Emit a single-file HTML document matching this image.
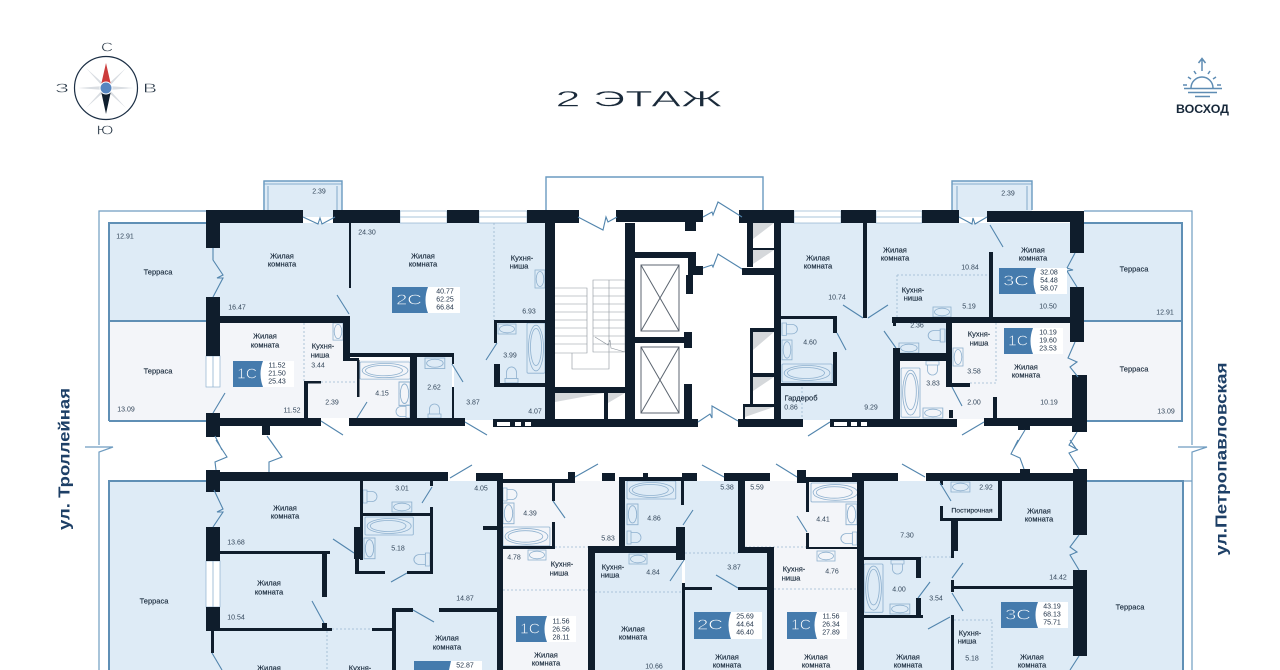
<!DOCTYPE html>
<html lang="ru"><head><meta charset="utf-8"><title>2 этаж</title>
<style>
html,body{margin:0;padding:0;background:#fff}
svg{display:block}
text{font-family:"Liberation Sans","Noto Sans CJK SC",sans-serif;fill:#17283a;dominant-baseline:central}
.r{font-size:7.5px;text-anchor:middle;font-weight:400;stroke:#17283a;stroke-width:.15}
.n{font-size:7px;text-anchor:middle;fill:#33465a}
.t{font-size:7px;text-anchor:middle;fill:#22344a}
.tg{font-size:15px;fill:#fff;text-anchor:middle;stroke:#457bad;stroke-width:.55}
.h{fill:#1a2a3a;stroke:#fff;stroke-width:.4}
.d{fill:none;stroke:#5285ad;stroke-width:1.1}
.f{fill:none;stroke:#8fb1cf;stroke-width:.8}
.da{fill:none;stroke:#9ab6cf;stroke-width:.8;stroke-dasharray:2 2}
.o{fill:none;stroke:#6f9cc0;stroke-width:1.2}
.s{fill:none;stroke:#8b939b;stroke-width:.6}
</style></head><body>
<svg width="1280" height="670" viewBox="0 0 1280 670" xmlns="http://www.w3.org/2000/svg">
<defs>
<g id="bath"><rect width="46" height="18" rx="1" class="f"/><ellipse cx="23" cy="9" rx="21" ry="7.5" class="f"/><ellipse cx="22" cy="9" rx="17" ry="5.5" class="f"/></g>
<g id="sink"><rect width="18" height="10" class="f"/><ellipse cx="9" cy="5" rx="7.5" ry="3.8" class="f"/></g>
<g id="toilet"><path d="M0 0h4v13H0zM4 1.5h5a5 5 0 0 1 0 10H4z" class="f"/></g>
</defs>
<rect width="1280" height="670" fill="#fff"/>

<!-- fills -->
<g fill="#deebf6">
<rect x="109" y="223" width="100" height="98"/>
<rect x="206" y="248" width="14" height="49"/>
<rect x="220" y="223" width="130" height="93"/>
<rect x="350" y="223" width="196" height="130"/>
<rect x="454" y="353" width="92" height="67"/>
<rect x="417" y="357" width="35" height="61"/>
<rect x="781" y="223" width="290" height="94"/>
<rect x="781" y="317" width="112" height="103"/>
<rect x="893" y="323" width="53" height="30"/>
<rect x="1070" y="253" width="14" height="34"/>
<rect x="1084" y="223" width="98" height="98"/>
<rect x="263" y="181" width="79" height="36"/>
<rect x="952" y="181" width="80" height="36"/>
<rect x="109" y="481" width="98" height="189"/>
<rect x="206" y="492" width="14" height="35"/>
<rect x="206" y="631" width="14" height="39"/>
<rect x="220" y="481" width="277" height="189"/>
<rect x="595" y="553" width="87" height="117"/>
<rect x="625" y="481" width="113" height="72"/>
<rect x="685" y="553" width="82" height="117"/>
<rect x="864" y="481" width="209" height="189"/>
<rect x="1073" y="535" width="14" height="35"/>
<rect x="1073" y="656" width="14" height="14"/>
<rect x="1087" y="481" width="96" height="189"/>
</g>
<g fill="#f3f5f9">
<rect x="109" y="321" width="100" height="100"/>
<rect x="206" y="387" width="14" height="26"/>
<rect x="220" y="323" width="125" height="95"/>
<rect x="308" y="360" width="102" height="58"/>
<rect x="900" y="361" width="46" height="58"/>
<rect x="946" y="323" width="126" height="96"/>
<rect x="1070" y="342" width="14" height="33"/>
<rect x="1084" y="321" width="98" height="100"/>
<rect x="503" y="481" width="85" height="189"/>
<rect x="588" y="481" width="31" height="66"/>
<rect x="745" y="481" width="115" height="66"/>
<rect x="774" y="547" width="86" height="123"/>
</g>

<!-- outer outlines -->
<path class="o" d="M206 211H99V445M85 447H113L99 452V670M1084 211H1192V445M1178 447H1207L1192 452V670M1087 481H1192M206 481H109"/>
<path fill="none" stroke="#5f8fb5" stroke-width="2" d="M109 421V223H206M109 321H206M109 421H206M109 670V481H206M1084 223H1182V421H1084M1084 321H1182M1087 481H1183V670"/>
<path fill="none" stroke="#6a9ac0" stroke-width="1.4" d="M264 210V181H342V210M952 210V181H1032V210M546 210V177H763V210"/>
<path fill="none" stroke="#6a9ac0" stroke-width=".8" d="M268 210V186M337 210V186M264 184H342M957 210V186M1027 210V186M952 184H1032"/>

<!-- windows -->
<g fill="#fff" stroke="#8fb1cf" stroke-width=".7">
<rect x="400" y="211" width="47" height="12"/><rect x="479" y="211" width="48" height="12"/>
<rect x="794" y="211" width="47" height="12"/><rect x="876" y="211" width="46" height="12"/>
<rect x="206" y="356" width="14" height="31"/><rect x="206" y="561" width="14" height="46"/>
</g>
<path class="f" d="M213 356V387M213 561V607M400 217H447M479 217H527M794 217H841M876 217H922"/>

<!-- shaft shadows -->
<g fill="#d5d8db">
<path d="M753 223h21l-21 16zM753 250h21l-21 14zM753 332h21l-21 18zM753 377h21l-21 14zM745 407h29l-29 10zM555 393h49l-49 9zM608 393h17l-17 10z"/>
</g>

<!-- stairs and lifts -->
<path class="s" d="M555 288H587V353H555M555 296H587M555 304H587M555 312H587M555 320H587M555 328H587M555 336H587M555 344H587M593 280H625V352H593ZM593 288H625M593 296H625M593 304H625M593 312H625M593 320H625M593 328H625M593 336H625M593 344H625M572 353V369H609V280M595 337L608 345L610 340L611 348L625 352"/>
<path stroke="#5c6570" stroke-width="1" fill="none" d="M641 265H679V331H641ZM641 265L679 331M679 265L641 331M641 347H679V413H641ZM641 347L679 413M679 347L641 413"/>

<!-- dashed partitions -->
<path class="da" d="M494 223V320M304 323V381M321 382H357M897 275H989M897 275V317M996 323V383M970 383H996M802 387V419M555 547H588M503 590H588M595 592H682M685 553H738M745 547H806M774 589H860M332 629H372M327 631V670M921 557H951M954 620H992V670"/>

<!-- fixtures -->
<use href="#bath" transform="translate(360 362) scale(1.09 .95)"/>
<use href="#sink" transform="translate(410 382) rotate(90) scale(1.3 1.1)"/>
<use href="#toilet" transform="translate(410 418) rotate(180)"/>
<use href="#sink" transform="translate(425 358) scale(1.1 1.05)"/>
<use href="#toilet" transform="translate(428 418) rotate(-90)"/>
<use href="#sink" transform="translate(498 324)"/>
<use href="#bath" transform="translate(545 323) rotate(90) scale(1.09 1)"/>
<use href="#toilet" transform="translate(505 383) rotate(-90) scale(1.15 1)"/>
<use href="#sink" transform="translate(545 270) rotate(90)"/>
<use href="#sink" transform="translate(343 323) rotate(90) scale(.95 1)"/>
<use href="#toilet" transform="translate(782 323) scale(1.1 .95)"/>
<use href="#sink" transform="translate(792 340) rotate(90) scale(1.1 1)"/>
<use href="#bath" transform="translate(782 364) scale(1.09 1)"/>
<use href="#sink" transform="translate(933 307)"/>
<use href="#toilet" transform="translate(945 329) scale(-1.2 1)"/>
<use href="#sink" transform="translate(899 343) scale(1.1 1)"/>
<use href="#bath" transform="translate(920 368) rotate(90) scale(1.07 1.05)"/>
<use href="#toilet" transform="translate(939 361) rotate(90)"/>
<use href="#sink" transform="translate(923 408) scale(1.1 1)"/>
<use href="#sink" transform="translate(963 348) rotate(90)"/>
<use href="#toilet" transform="translate(363 490)"/>
<use href="#sink" transform="translate(392 502) scale(1.1 1)"/>
<use href="#bath" transform="translate(365 517) scale(1.05 1)"/>
<use href="#sink" transform="translate(375 538) rotate(90) scale(1.15 1.1)"/>
<use href="#toilet" transform="translate(430 553) scale(-1.15 1)"/>
<use href="#toilet" transform="translate(503 488)"/>
<use href="#sink" transform="translate(514 503) rotate(90) scale(1.15 1.1)"/>
<use href="#bath" transform="translate(503 527) scale(1.02 1.05)"/>
<use href="#sink" transform="translate(528 550)"/>
<use href="#bath" transform="translate(627 481) scale(1.06 1)"/>
<use href="#sink" transform="translate(638 504) rotate(90) scale(1.15 1.1)"/>
<use href="#toilet" transform="translate(627 531)"/>
<use href="#sink" transform="translate(629 554)"/>
<use href="#bath" transform="translate(811 483) scale(1.06 1.05)"/>
<use href="#sink" transform="translate(857 504) rotate(90) scale(1.15 1.1)"/>
<use href="#toilet" transform="translate(857 532) scale(-1.15 1)"/>
<use href="#sink" transform="translate(817 551)"/>
<use href="#sink" transform="translate(951 482) scale(1.05 1)"/>
<use href="#bath" transform="translate(883 564) rotate(90) scale(1.05 1.05)"/>
<use href="#toilet" transform="translate(904 560) rotate(90)"/>
<use href="#sink" transform="translate(890 604) scale(1.1 1)"/>

<!-- walls -->
<path fill="#0f1d2c" d="
M206 210H303V223H206zM206 223H220V248H206zM206 297H220V356H206zM206 413H220V437H206zM220 316H350V323H220zM343 316H350V360H343zM349 223H351V288H349z
M333 210H400V223H333zM447 210H479V223H447zM527 210H579V223H527zM545 223H555V427H545zM350 353H454V357H350zM343 358H359V361H343zM357 360H359.500V397H357z
M410 357H417V423H410zM452 353H454V364H452zM452 387H454V420H452zM220 418H321V426H220zM349 418H465V426H349zM304 381H321V383.500H304zM304 381H308V418H304zM262 426H270V435H262z
M494 320H554V323H494zM494 320H497V343H494zM494 364H500V387H494zM494 383H554V387H494z
M493 419H554V427H493z
M616 210H703V222H616zM685 222H696V231H685zM625 223H635V427H625zM635 252H696V258H635zM688 258H696V268H688zM688 266H703V275H688zM686 275H693V294H686zM635 337H692V343H635zM684 332H692V348H684zM684 384H692V420H684zM555 419H698V427H555zM555 387H625V393H555zM604 393H608V419H604z
M739 210H794V223H739zM747 223H753V267H747zM753 248H774V250H753zM742 268H781V275H742zM774 223H781V427H774zM750 328H774V332H750zM750 328H753V405H750zM753 373H774V377H753zM743 404H774V407H743zM743 404H745V420H743zM738 419H803V427H738z
M781 316H837V319H781zM833 319H837V333H833zM833 352H837V386H833zM781 383H837V386H781zM841 210H876V223H841zM863 223H867V318H863zM830 419H957V427H830z
M922 210H959V223H922zM987 211H1084V222H987zM1070 222H1084V253H1070zM1070 287H1084V342H1070zM1072 375H1087V432H1072zM989 252H993V317H989zM892 317H1073V323H892zM893 323H896V326H893zM946 320H952V387H946zM893 348H900V420H893zM897 353H946V361H897zM950 383H970V387H950zM993 397H997V420H993zM984 418H1073V426H984zM949 410H953V418H949zM1018 426H1030V430H1018z
M206 470H220V492H206zM220 472H448V481H220zM476 473H503V481H476zM206 527H220V561H206zM206 607H220V631H206zM220 551H330V554H220zM322 554H327V597H322zM322 623H327V628H322zM220 628H332V631H220zM372 628H392V631H372zM211 631H214V653H211zM392 608H413V612H392zM392 608H396V670H392zM439 608H497V612H439zM497 473H503V670H497zM360 481H363V560H360zM354 527H363V559H354zM363 513H433V516H363zM430 507H433V573H430zM430 481H433V486H430zM355 559H359V574H355zM355 571H385V574H355zM407 571H433V574H407zM483 526H497V530H483z
M503 479H573V483H503zM568 472H575V483H568zM552 483H555V501H552zM552 522H555V547H552zM503 546H555V549H503zM490 608H498V612H490zM588 546H595V670H588zM588 546H677V553H588zM602 473H615V481H602zM619 477H697V481H619zM619 480H625V547H619zM682 473H697V481H682zM643 473H648V477H643zM681 481H684V505H681zM676 527H685V560H676zM724 473H770V481H724zM738 481H745V547H738zM738 547H774V553H738zM767 553H774V670H767zM682 583H685V670H682zM685 587H712V590H685zM738 587H767V590H738zM797 470H806V483H797zM806 477H860V482H806zM806 482H809V512H806zM806 533H809V548H806zM806 547H860V549H806z
M852 473H898V481H852zM857 481H864V670H857zM926 473H1077V481H926zM1020 469H1030V473H1020zM1073 469H1087V535H1073zM1073 570H1087V656H1073zM940 481H943V485H940zM940 506H943V521H940zM940 518H1002V521H940zM998 481H1002V521H998zM951 521H958V551H951zM951 551H954V558H951zM951 580H954V592H951zM954 586H1073V589H954zM951 615H954V670H951zM864 557H921V560H864zM916 560H921V578H916zM916 598H921V618H916zM864 615H923V618H864z"/>
<g fill="#fff"><rect x="497" y="422" width="13" height="4"/><rect x="515" y="422" width="6" height="4"/><rect x="525" y="422" width="6" height="4"/><rect x="834" y="422" width="13" height="4"/><rect x="851" y="422" width="6" height="4"/><rect x="861" y="422" width="6" height="4"/></g>

<!-- doors -->
<path class="d" d="M303 217L318 224L320 218L322 224L335 217M959 217L972 224L973 218L975 224L987 217
M578 217L603 230L606 217L608 222L617 217M703 217L712 212L713 215L718 202L742 217M703 268L712 265L713 267L718 254L742 269M698 422L710 414L712 418L712 406L738 421
M213 248V260L223 275L217 278H223L213 297M225 393L213 413M215 436L222 450M267 436L277 450M216 440L227 457L215 462L216 470M270 440L282 457L269 462L269 472
M214 490L223 509L217 512H223L213 527M212 653L222 670
M337 295L349 314M321 421L343 435M357 418L367 402M465 422L487 435M452 364L463 382M486 360L497 343
M843 305L863 318M837 333L846 350M830 422L808 436M868 318L888 305M990 225L1003 247M884 331L896 348M952 387L962 406M984 422L962 435
M1075 253L1067 268L1073 270L1067 271L1077 287M1075 342L1068 358L1077 362L1070 367L1078 377M1025 430L1013 450M1077 432L1069 445L1078 450
M1018 440L1011 454L1020 458L1024 469M1070 440L1077 450L1069 453L1079 469M1079 535L1070 547L1077 552L1070 555L1079 570M1079 656L1070 670
M902 464L925 477M940 483L951 501M963 563L952 578M963 611L952 593M930 582L918 598M950 617L928 629
M450 478L472 465M422 503L432 487M333 539L354 553M391 582L407 573M312 601L324 623M413 610L434 622
M575 477L598 464M553 501L565 518M702 465L724 477M776 464L797 477M693 510L683 525M684 560L670 581M716 575L738 588M797 516L807 532"/>

<!-- header -->
<text class="h" x="639" y="99" font-size="22" textLength="167" lengthAdjust="spacingAndGlyphs" text-anchor="middle">2 ЭТАЖ</text>

<!-- compass -->
<circle cx="106" cy="88" r="31.500" fill="#fff" stroke="#1c2f45" stroke-width="1.2"/>
<path fill="#d9dde2" d="M78 88L104 86L104 90ZM134 88L108 86L108 90ZM86 68L106 86L104 88ZM126 68L106 86L108 88ZM86 108L106 90L104 88ZM126 108L106 90L108 88Z"/>
<path fill="#cc3c3c" d="M106 63L111 85H101Z"/><path fill="#101f2e" d="M106 114L111 91H101Z"/>
<circle cx="106" cy="88" r="6" fill="#5585c0" stroke="#fff" stroke-width="1"/>
<text class="h" x="107" y="47" font-size="13" text-anchor="middle" textLength="12" lengthAdjust="spacingAndGlyphs">С</text>
<text class="h" x="105" y="130" font-size="13" text-anchor="middle" textLength="17" lengthAdjust="spacingAndGlyphs">Ю</text>
<text class="h" x="62" y="88" font-size="13" text-anchor="middle" textLength="14" lengthAdjust="spacingAndGlyphs">З</text>
<text class="h" x="150" y="88" font-size="13" text-anchor="middle" textLength="14" lengthAdjust="spacingAndGlyphs">В</text>

<!-- sunrise -->
<g fill="none" stroke="#5e8cb3" stroke-width="1.5">
<path d="M1184 88.500H1222M1188 92.500H1217M1195 96.500H1210" stroke-width="1.5"/>
<path d="M1191 88A11 11 0 0 1 1213 88"/>
<path d="M1202 71V60M1198.500 63L1202 58.500L1205.500 63M1188 77L1191 79M1216 77L1213 79M1194 71L1196 74M1210 71L1208 74M1183 85H1187M1217 85H1221"/>
</g>
<text x="1202.500" y="110" font-size="11.500" font-weight="700" text-anchor="middle" textLength="53" lengthAdjust="spacingAndGlyphs" style="fill:#17283a">ВОСХОД</text>

<!-- streets -->
<text transform="translate(65 459) rotate(-90)" font-size="16" font-weight="700" text-anchor="middle" textLength="142" lengthAdjust="spacingAndGlyphs" style="fill:#1d3f66">ул. Троллейная</text>
<text transform="translate(1222 459) rotate(-90)" font-size="16" font-weight="700" text-anchor="middle" textLength="193" lengthAdjust="spacingAndGlyphs" style="fill:#1d3f66">ул.Петропавловская</text>

<!-- area tags -->
<g fill="#fff">
<rect x="420" y="287" width="40" height="26"/><rect x="258" y="361" width="36" height="26"/><rect x="1030" y="268" width="37" height="26"/><rect x="1028" y="328" width="35" height="26"/><rect x="542" y="616" width="34" height="26"/><rect x="726" y="612" width="36" height="27"/><rect x="812" y="612" width="35" height="27"/><rect x="1033" y="602" width="35" height="26"/><rect x="446" y="661" width="36" height="9"/>
</g>
<g fill="#457bad">
<path d="M392 287H428Q423 300 428 313H392Z"/>
<path d="M233 361H263Q258 374 263 387H233Z"/>
<path d="M999 268H1036Q1031 281 1036 294H999Z"/>
<path d="M1004 328H1033Q1028 341 1033 354H1004Z"/>
<path d="M516 616H547Q542 629 547 642H516Z"/>
<path d="M694 612H731Q726 625 731 639H694Z"/>
<path d="M787 612H817Q812 625 817 639H787Z"/>
<path d="M1001 602H1038Q1033 615 1038 628H1001Z"/>
<path d="M414 661H451L449 670H414Z"/>
</g>
<text class="tg" x="409" y="300" textLength="26" lengthAdjust="spacingAndGlyphs">2С</text>
<text class="tg" x="247" y="374" textLength="20" lengthAdjust="spacingAndGlyphs">1С</text>
<text class="tg" x="1016" y="281" textLength="26" lengthAdjust="spacingAndGlyphs">3С</text>
<text class="tg" x="1018" y="341" textLength="20" lengthAdjust="spacingAndGlyphs">1С</text>
<text class="tg" x="530" y="629" textLength="20" lengthAdjust="spacingAndGlyphs">1С</text>
<text class="tg" x="710" y="625" textLength="26" lengthAdjust="spacingAndGlyphs">2С</text>
<text class="tg" x="801" y="625" textLength="20" lengthAdjust="spacingAndGlyphs">1С</text>
<text class="tg" x="1018" y="615" textLength="26" lengthAdjust="spacingAndGlyphs">3С</text>
<g class="t">
<text class="t" x="445" y="292">40.77</text><text class="t" x="445" y="300">62.25</text><text class="t" x="445" y="308">66.84</text>
<text class="t" x="277" y="366">11.52</text><text class="t" x="277" y="374">21.50</text><text class="t" x="277" y="382">25.43</text>
<text class="t" x="1049" y="273">32.08</text><text class="t" x="1049" y="281">54.48</text><text class="t" x="1049" y="289">58.07</text>
<text class="t" x="1048" y="333">10.19</text><text class="t" x="1048" y="341">19.60</text><text class="t" x="1048" y="349">23.53</text>
<text class="t" x="561" y="622">11.56</text><text class="t" x="561" y="630">26.56</text><text class="t" x="561" y="638">28.11</text>
<text class="t" x="745" y="617">25.69</text><text class="t" x="745" y="625">44.64</text><text class="t" x="745" y="633">46.40</text>
<text class="t" x="831" y="617">11.56</text><text class="t" x="831" y="625">26.34</text><text class="t" x="831" y="633">27.89</text>
<text class="t" x="1052" y="607">43.19</text><text class="t" x="1052" y="615">68.13</text><text class="t" x="1052" y="623">75.71</text>
<text class="t" x="465" y="666">52.87</text>
</g>

<!-- room names -->
<text class="r" x="158" y="272">Терраса</text><text class="r" x="158" y="371">Терраса</text>
<text class="r" x="1134" y="269">Терраса</text><text class="r" x="1134" y="369">Терраса</text>
<text class="r" x="154" y="601">Терраса</text><text class="r" x="1130" y="607">Терраса</text>
<text class="r" x="282" y="256">Жилая</text><text class="r" x="282" y="264">комната</text>
<text class="r" x="265" y="336">Жилая</text><text class="r" x="265" y="345">комната</text>
<text class="r" x="423" y="256">Жилая</text><text class="r" x="423" y="264">комната</text>
<text class="r" x="818" y="258">Жилая</text><text class="r" x="818" y="266">комната</text>
<text class="r" x="895" y="250">Жилая</text><text class="r" x="895" y="258">комната</text>
<text class="r" x="1033" y="250">Жилая</text><text class="r" x="1033" y="258">комната</text>
<text class="r" x="1026" y="367">Жилая</text><text class="r" x="1026" y="375">комната</text>
<text class="r" x="285" y="508">Жилая</text><text class="r" x="285" y="516">комната</text>
<text class="r" x="269" y="583">Жилая</text><text class="r" x="269" y="592">комната</text>
<text class="r" x="447" y="638">Жилая</text><text class="r" x="447" y="647">комната</text>
<text class="r" x="269" y="668">Жилая</text>
<text class="r" x="546" y="655">Жилая</text><text class="r" x="546" y="663">комната</text>
<text class="r" x="633" y="629">Жилая</text><text class="r" x="633" y="637">комната</text>
<text class="r" x="727" y="657">Жилая</text><text class="r" x="727" y="665">комната</text>
<text class="r" x="816" y="657">Жилая</text><text class="r" x="816" y="665">комната</text>
<text class="r" x="908" y="657">Жилая</text><text class="r" x="908" y="665">комната</text>
<text class="r" x="1039" y="511">Жилая</text><text class="r" x="1039" y="519">комната</text>
<text class="r" x="1032" y="657">Жилая</text><text class="r" x="1032" y="665">комната</text>
<text class="r" x="323" y="346">Кухня-</text><text class="r" x="320" y="355">ниша</text>
<text class="r" x="522" y="258">Кухня-</text><text class="r" x="519" y="266">ниша</text>
<text class="r" x="913" y="290">Кухня-</text><text class="r" x="913" y="298">ниша</text>
<text class="r" x="979" y="334">Кухня-</text><text class="r" x="979" y="343">ниша</text>
<text class="r" x="562" y="564">Кухня-</text><text class="r" x="559" y="573">ниша</text>
<text class="r" x="613" y="567">Кухня-</text><text class="r" x="610" y="575">ниша</text>
<text class="r" x="794" y="569">Кухня-</text><text class="r" x="791" y="578">ниша</text>
<text class="r" x="970" y="633">Кухня-</text><text class="r" x="967" y="641">ниша</text>
<text class="r" x="360" y="668">Кухня-</text>
<text class="r" x="801" y="398">Гардероб</text>
<text class="r" x="972" y="511" style="font-size:6.8px">Постирочная</text>

<!-- room areas -->
<g>
<text class="n" x="125" y="237">12.91</text><text class="n" x="126" y="410">13.09</text><text class="n" x="237" y="308">16.47</text><text class="n" x="318" y="366">3.44</text><text class="n" x="292" y="411">11.52</text><text class="n" x="332" y="403">2.39</text><text class="n" x="382" y="394">4.15</text><text class="n" x="434" y="388">2.62</text><text class="n" x="473" y="403">3.87</text><text class="n" x="535" y="412">4.07</text><text class="n" x="510" y="356">3.99</text><text class="n" x="529" y="312">6.93</text><text class="n" x="367" y="233">24.30</text><text class="n" x="319" y="192">2.39</text>
<text class="n" x="837" y="298">10.74</text><text class="n" x="810" y="343">4.60</text><text class="n" x="791" y="408">0.86</text><text class="n" x="871" y="408">9.29</text>
<text class="n" x="1008" y="194">2.39</text><text class="n" x="970" y="268">10.84</text><text class="n" x="969" y="307">5.19</text><text class="n" x="1048" y="307">10.50</text><text class="n" x="1165" y="313">12.91</text><text class="n" x="917" y="326">2.36</text><text class="n" x="933" y="384">3.83</text><text class="n" x="974" y="372">3.58</text><text class="n" x="974" y="403">2.00</text><text class="n" x="1049" y="403">10.19</text><text class="n" x="1166" y="412">13.09</text>
<text class="n" x="236" y="543">13.68</text><text class="n" x="402" y="489">3.01</text><text class="n" x="398" y="549">5.18</text><text class="n" x="481" y="489">4.05</text><text class="n" x="236" y="618">10.54</text><text class="n" x="465" y="599">14.87</text>
<text class="n" x="530" y="514">4.39</text><text class="n" x="608" y="539">5.83</text><text class="n" x="514" y="558">4.78</text><text class="n" x="654" y="519">4.86</text><text class="n" x="653" y="573">4.84</text><text class="n" x="727" y="488">5.38</text><text class="n" x="757" y="488">5.59</text><text class="n" x="734" y="568">3.87</text><text class="n" x="823" y="520">4.41</text><text class="n" x="832" y="572">4.76</text><text class="n" x="654" y="667">10.66</text>
<text class="n" x="986" y="488">2.92</text><text class="n" x="907" y="536">7.30</text><text class="n" x="1058" y="578">14.42</text><text class="n" x="899" y="590">4.00</text><text class="n" x="936" y="599">3.54</text><text class="n" x="972" y="659">5.18</text>
</g>
</svg>
</body></html>
